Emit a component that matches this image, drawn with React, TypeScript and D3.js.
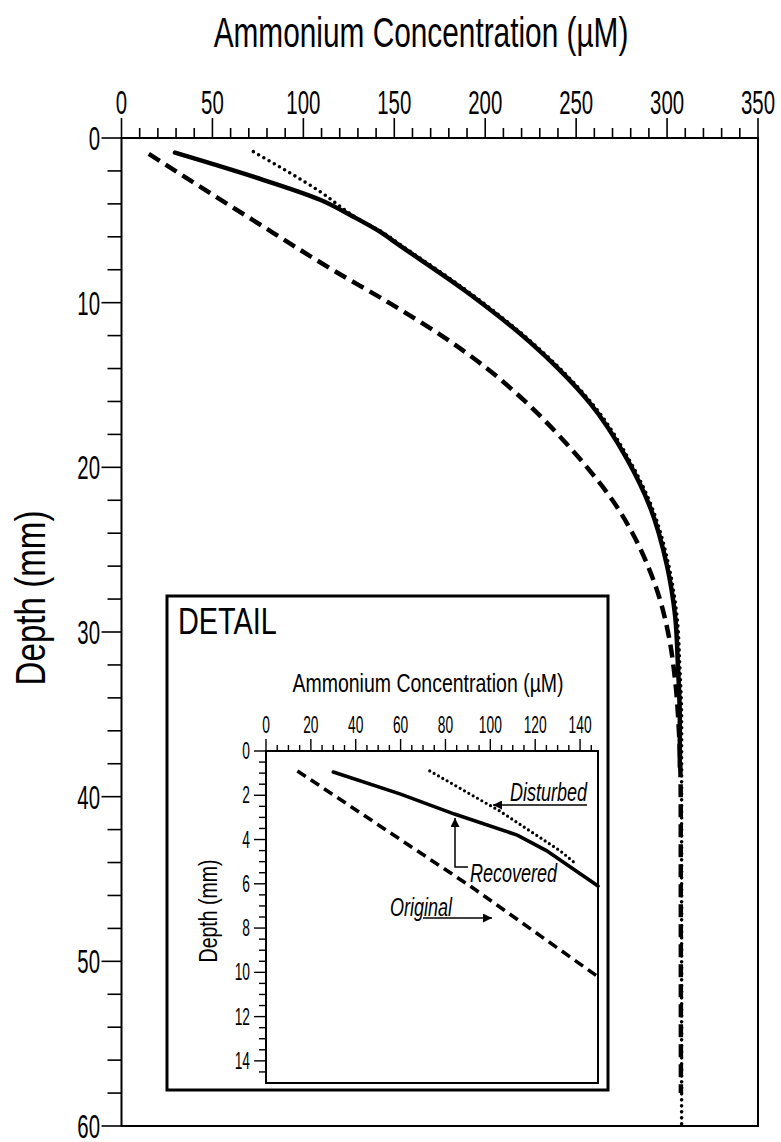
import React from "react";
import * as d3 from "d3";

const FONT = "'Liberation Sans', Arial, Helvetica, sans-serif";

// ---------- main chart data (depth mm, concentration µM) ----------
const originalDepth = [0.97, 5, 8, 10, 12, 14, 16, 18, 20, 22, 24, 26, 28, 30, 33, 36, 40, 58];
const originalConc = [15, 72.5, 116, 147, 176, 201, 222, 240, 256, 270, 281, 289.5, 296, 300.5, 304.5, 306.5, 307.5, 307.6];

const recoveredDepth = [0.89, 2.35, 3.75, 4.78, 5.69, 6.4, 9.2, 12.4, 14.1, 16.1, 19.5, 22.4, 26, 29, 32.1, 35.3, 38.2];
const recoveredConc = [29.4, 72.5, 109.2, 127.5, 142.1, 151.3, 188, 224.6, 241, 257.6, 278, 290.6, 300, 304.4, 306, 307, 307];

const disturbedDepth = [0.83, 3.26, 4.98, 5.69, 6.4, 9.2, 12.4, 14.1, 16.1, 19.5, 22.4, 26, 29, 32.1, 35.3, 40, 50, 60];
const disturbedConc = [72.5, 109.2, 131.1, 143, 152.3, 189, 225.6, 242, 258.6, 279, 291.6, 301, 305.4, 307, 308, 308, 308, 308];

// ---------- inset (detail) data ----------
const insetOriginalDepth = [0.9, 6.1, 10.2];
const insetOriginalConc = [14, 91, 148];

const insetRecoveredDepth = [0.95, 1.95, 2.85, 3.8, 4.5, 6.1];
const insetRecoveredConc = [30, 60, 84, 112, 125, 148];

const insetDisturbedDepth = [0.9, 2.7, 4.5, 5.0];
const insetDisturbedConc = [73, 104, 131, 137];

// ---------- tick labels ----------
const mainConcTicks = [0, 50, 100, 150, 200, 250, 300, 350];
const mainDepthTicks = [0, 10, 20, 30, 40, 50, 60];
const insetConcTicks = [0, 20, 40, 60, 80, 100, 120, 140];
const insetDepthTicks = [0, 2, 4, 6, 8, 10, 12, 14];

function T(props: any) {
  const { x, y, size, sx = 0.8, anchor = "start", italic = false, rotate = 0, children } = props;
  return (
    <text
      transform={`translate(${x},${y}) rotate(${rotate}) scale(${sx},1)`}
      fontFamily={FONT}
      fontSize={size}
      fontStyle={italic ? "italic" : "normal"}
      textAnchor={anchor}
      fill="#000"
    >
      {children}
    </text>
  );
}

function zip(depths: number[], concs: number[]) {
  return depths.map((d, i) => ({ d, c: concs[i] }));
}

export default function App() {
  const W = 781, H = 1142;
  const x = d3.scaleLinear().domain([0, 350]).range([121.5, 758]);
  const y = d3.scaleLinear().domain([0, 60]).range([138, 1126]);

  const ix = d3.scaleLinear().domain([0, 148]).range([266, 598]);
  const iy = d3.scaleLinear().domain([0, 15]).range([751, 1083]);

  const mainLine = d3.line<any>().x((p) => x(p.c)).y((p) => y(p.d)).curve(d3.curveMonotoneY);
  const insetLine = d3.line<any>().x((p) => ix(p.c)).y((p) => iy(p.d));

  const minorX = d3.range(0, 351, 10);
  const minorY = d3.range(0, 61, 2);
  const iMinorX = d3.range(0, 146, 5);
  const iMinorY = d3.range(0, 15, 0.5);

  return (
    <svg width={W} height={H} style={{ position: "absolute", left: 0, top: 0, background: "#fff" }}>
      <defs>
        <marker id="ah" viewBox="0 0 10 10" refX="10" refY="5" markerWidth="10" markerHeight="9" markerUnits="userSpaceOnUse" orient="auto-start-reverse">
          <path d="M0,0 L10,5 L0,10 z" fill="#000" />
        </marker>
      </defs>
      <rect x={0} y={0} width={W} height={H} fill="#fff" />

      {/* titles */}
      <T x={421} y={47} size={42} sx={0.71} anchor="middle">Ammonium Concentration (µM)</T>
      <T x={45} y={598} size={42} sx={0.79} anchor="middle" rotate={-90}>Depth (mm)</T>

      {/* main curves */}
      <path d={mainLine(zip(originalDepth, originalConc)) || ""} fill="none" stroke="#000" strokeWidth={4.5} strokeDasharray="13,7" />
      <path d={mainLine(zip(disturbedDepth, disturbedConc)) || ""} fill="none" stroke="#000" strokeWidth={3.6} strokeDasharray="0,6" strokeLinecap="round" />
      <path d={mainLine(zip(recoveredDepth, recoveredConc)) || ""} fill="none" stroke="#000" strokeWidth={4.5} strokeLinecap="round" />

      {/* main frame */}
      <rect x={x(0)} y={y(0)} width={x(350) - x(0)} height={y(60) - y(0)} fill="none" stroke="#000" strokeWidth={2} />

      {/* top axis ticks */}
      {minorX.map((v) => {
        const major = v % 50 === 0;
        return <line key={"mx" + v} x1={x(v)} x2={x(v)} y1={y(0)} y2={y(0) - (major ? 20 : 10)} stroke="#000" strokeWidth={1.6} />;
      })}
      {mainConcTicks.map((v) => (
        <T key={"lx" + v} x={x(v)} y={114} size={34} sx={0.6} anchor="middle">{v}</T>
      ))}

      {/* left axis ticks */}
      {minorY.map((v) => {
        const major = v % 10 === 0;
        return <line key={"my" + v} x1={x(0)} x2={x(0) - (major ? 20 : 14)} y1={y(v)} y2={y(v)} stroke="#000" strokeWidth={1.6} />;
      })}
      {mainDepthTicks.map((v) => (
        <T key={"ly" + v} x={100} y={y(v) + 12} size={34} sx={0.6} anchor="end">{v}</T>
      ))}

      {/* inset box */}
      <rect x={167} y={596} width={441} height={494} fill="#fff" stroke="#000" strokeWidth={3} />
      <T x={178} y={634} size={37} sx={0.78}>DETAIL</T>

      <T x={428} y={692} size={25} sx={0.78} anchor="middle">Ammonium Concentration (µM)</T>
      <T x={217} y={911} size={25} sx={0.78} anchor="middle" rotate={-90}>Depth (mm)</T>

      {/* inset curves */}
      <path d={insetLine(zip(insetOriginalDepth, insetOriginalConc)) || ""} fill="none" stroke="#000" strokeWidth={3.6} strokeDasharray="10,6" />
      <path d={insetLine(zip(insetDisturbedDepth, insetDisturbedConc)) || ""} fill="none" stroke="#000" strokeWidth={3.2} strokeDasharray="0,5" strokeLinecap="round" />
      <path d={insetLine(zip(insetRecoveredDepth, insetRecoveredConc)) || ""} fill="none" stroke="#000" strokeWidth={3.6} strokeLinecap="round" />

      {/* inset frame */}
      <rect x={ix(0)} y={iy(0)} width={ix(148) - ix(0)} height={iy(15) - iy(0)} fill="none" stroke="#000" strokeWidth={2} />

      {iMinorX.map((v) => {
        const major = v % 20 === 0;
        return <line key={"ix" + v} x1={ix(v)} x2={ix(v)} y1={iy(0)} y2={iy(0) - (major ? 12 : 6)} stroke="#000" strokeWidth={1.4} />;
      })}
      {insetConcTicks.map((v) => (
        <T key={"ilx" + v} x={ix(v)} y={733} size={23} sx={0.6} anchor="middle">{v}</T>
      ))}
      {iMinorY.map((v) => {
        const major = v % 2 === 0;
        return <line key={"iy" + v} x1={ix(0)} x2={ix(0) - (major ? 12 : 7)} y1={iy(v)} y2={iy(v)} stroke="#000" strokeWidth={1.4} />;
      })}
      {insetDepthTicks.map((v) => (
        <T key={"ily" + v} x={250} y={iy(v) + 8} size={23} sx={0.6} anchor="end">{v}</T>
      ))}

      {/* annotations */}
      <T x={510} y={801} size={25} sx={0.72} italic>Disturbed</T>
      <line x1={587} y1={805} x2={493} y2={805} stroke="#000" strokeWidth={1.5} markerEnd="url(#ah)" />

      <T x={470} y={882} size={25} sx={0.72} italic>Recovered</T>
      <polyline points="468,867 455,867 455,818" fill="none" stroke="#000" strokeWidth={1.5} markerEnd="url(#ah)" />

      <T x={390} y={916} size={25} sx={0.72} italic>Original</T>
      <line x1={423} y1={918} x2={492} y2={918} stroke="#000" strokeWidth={1.5} markerEnd="url(#ah)" />
    </svg>
  );
}
